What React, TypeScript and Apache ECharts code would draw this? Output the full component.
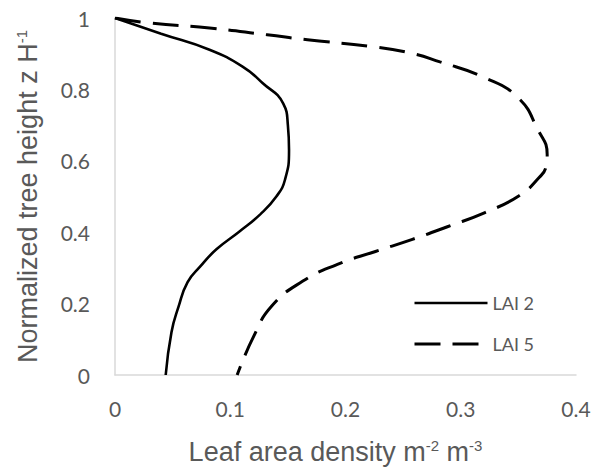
import React, { useEffect, useRef } from "react";
import * as echarts from "echarts";

const lai2X = [0, 0.04, 0.082, 0.111, 0.128, 0.146, 0.15, 0.151, 0.1475, 0.14, 0.126, 0.108, 0.088, 0.074, 0.063, 0.055, 0.049, 0.044];
const lai2Y = [1, 0.956, 0.911, 0.863, 0.818, 0.76, 0.7, 0.63, 0.547, 0.5, 0.45, 0.402, 0.352, 0.304, 0.26, 0.19, 0.12, 0];

const lai5X = [0, 0.03, 0.082, 0.132, 0.167, 0.223, 0.256, 0.282, 0.319, 0.349, 0.367, 0.375, 0.374, 0.368, 0.351, 0.321, 0.289, 0.258, 0.226, 0.193, 0.163, 0.136, 0.12, 0.106];
const lai5Y = [1, 0.986, 0.972, 0.953, 0.939, 0.92, 0.902, 0.877, 0.835, 0.779, 0.687, 0.617, 0.584, 0.553, 0.503, 0.455, 0.416, 0.38, 0.346, 0.31, 0.263, 0.193, 0.106, 0];

const seriesNames = ["LAI 2", "LAI 5"];
const xTicks = [0, 0.1, 0.2, 0.3, 0.4];
const yTicks = [0, 0.2, 0.4, 0.6, 0.8, 1];

const TICK_FONT = "Lato";
const TITLE_FONT = "Liberation Sans";
const GRAY = "#595959";

export default function App() {
  const ref = useRef<HTMLDivElement>(null);
  useEffect(() => {
    if (!ref.current) return;
    const chart = echarts.init(ref.current, null, { renderer: "svg" });
    const pairs = (xs: number[], ys: number[]) => xs.map((x, i) => [x, ys[i]]);
    const axisLine = { show: true, lineStyle: { color: "#d9d9d9", width: 1.5 } };
    const rich = {
      n: { fontSize: 27, color: GRAY, fontFamily: TITLE_FONT },
      s: { fontSize: 15, color: GRAY, fontFamily: TITLE_FONT, verticalAlign: "top", padding: [0, 0, 12, 0] },
    };
    chart.setOption({
      animation: false,
      backgroundColor: "#ffffff",
      grid: { left: 115, right: 22, top: 18, bottom: 94, containLabel: false },
      legend: {
        orient: "vertical",
        left: 408,
        top: 289,
        itemWidth: 73,
        itemHeight: 14,
        itemGap: 23,
        data: [
          { name: seriesNames[0], lineStyle: { width: 2.6 } },
          { name: seriesNames[1], lineStyle: { width: 3 } },
        ],
        itemStyle: { opacity: 0 },
        textStyle: { color: GRAY, fontSize: 18, fontFamily: TICK_FONT },
      },
      xAxis: {
        type: "value",
        min: xTicks[0],
        max: xTicks[xTicks.length - 1],
        interval: 0.1,
        axisLine,
        axisTick: { show: false },
        splitLine: { show: false },
        axisLabel: { color: GRAY, fontSize: 21, fontFamily: TICK_FONT, margin: 23 },
        name: "{n|Leaf area density m}{s|-2}{n| m}{s|-3}",
        nameLocation: "middle",
        nameGap: 63,
        nameTextStyle: { rich, padding: [0, 20, 0, 0] },
      },
      yAxis: {
        type: "value",
        min: yTicks[0],
        max: yTicks[yTicks.length - 1],
        interval: 0.2,
        axisLine,
        axisTick: { show: false },
        splitLine: { show: false },
        axisLabel: { color: GRAY, fontSize: 21, fontFamily: TICK_FONT, margin: 25 },
        name: "{n|Normalized tree height z H}{s|-1}",
        nameLocation: "middle",
        nameGap: 74,
        nameRotate: 90,
        nameTextStyle: { rich },
      },
      series: [
        {
          name: seriesNames[0],
          type: "line",
          data: pairs(lai2X, lai2Y),
          smooth: 0.5,
          symbol: "none",
          lineStyle: { color: "#000000", width: 2.6, type: "solid" },
          itemStyle: { color: "#000000" },
        },
        {
          name: seriesNames[1],
          type: "line",
          data: pairs(lai5X, lai5Y),
          smooth: 0.5,
          symbol: "none",
          lineStyle: { color: "#000000", width: 3, type: [26, 12] },
          itemStyle: { color: "#000000" },
        },
      ],
    });
    return () => chart.dispose();
  }, []);
  return <div ref={ref} style={{ width: 598, height: 470, position: "absolute", left: 0, top: 0 }} />;
}
